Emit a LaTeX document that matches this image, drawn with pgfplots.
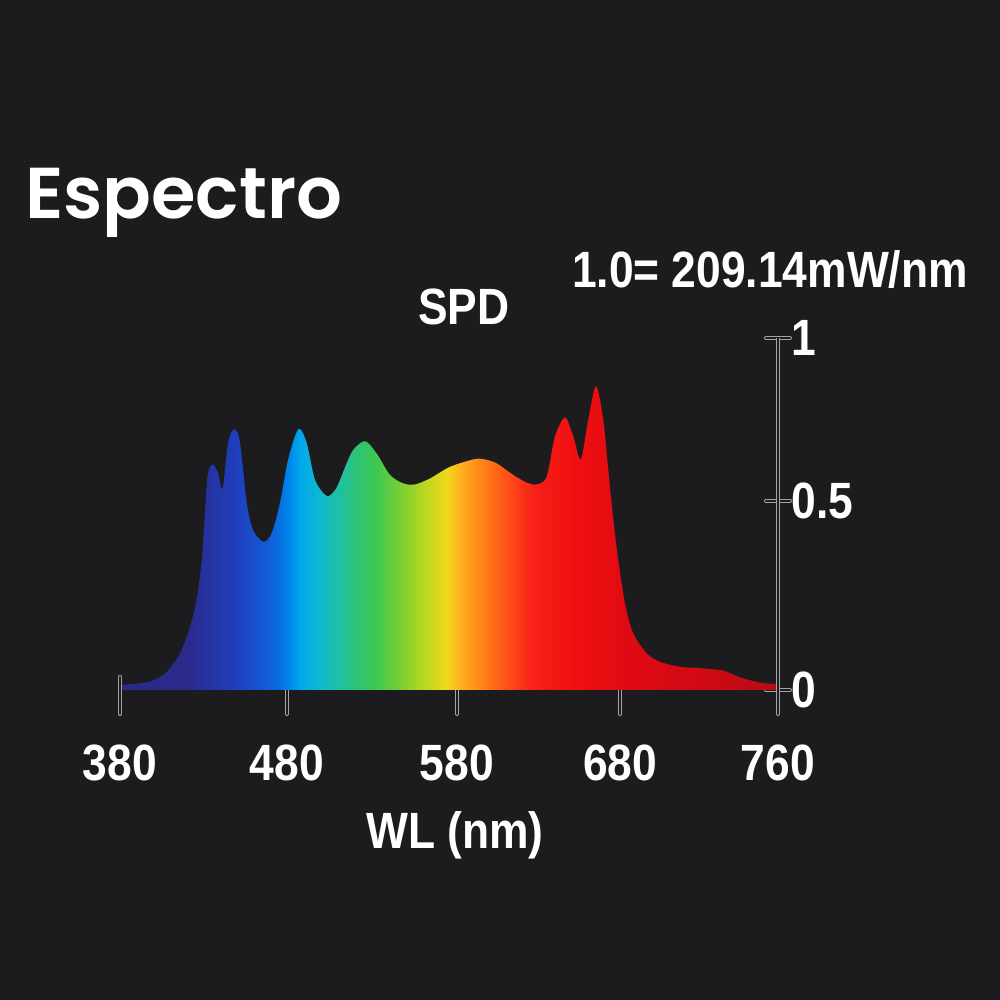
\documentclass[border=0pt]{standalone}
\usepackage{pgfplots}
\pgfplotsset{compat=1.18}
\usepackage{fontspec}
\setmainfont{Liberation Sans}
\newfontfamily\cond[FakeStretch=0.87]{Liberation Sans}
\newfontfamily\titlefont{Poppins SemiBold}

\definecolor{bg}{HTML}{1C1C1E}
\definecolor{axgray}{HTML}{A4A4A4}
% spectrum colours, left to right
\definecolor{s0}{HTML}{2A2A8A}
\definecolor{s1}{HTML}{1F3FBF}
\definecolor{s2}{HTML}{1060D8}
\definecolor{s3}{HTML}{0080E8}
\definecolor{s4}{HTML}{00A8EC}
\definecolor{s5}{HTML}{10B8D0}
\definecolor{s6}{HTML}{20C0A0}
\definecolor{s7}{HTML}{30C470}
\definecolor{s8}{HTML}{40C850}
\definecolor{s9}{HTML}{80D030}
\definecolor{s10}{HTML}{C0D820}
\definecolor{s11}{HTML}{F0D818}
\definecolor{s12}{HTML}{FFB020}
\definecolor{s13}{HTML}{FF8818}
\definecolor{s14}{HTML}{FF5018}
\definecolor{s15}{HTML}{F82018}
\definecolor{s16}{HTML}{F01010}
\definecolor{s17}{HTML}{E00A14}
\definecolor{s18}{HTML}{D00A14}
\definecolor{s19}{HTML}{B80A14}

\pgfdeclarehorizontalshading{spectrum}{100bp}{%
  color(0bp)=(s0); color(25bp)=(s0); color(30.09bp)=(s0);
  color(33.89bp)=(s1); color(36.40bp)=(s2); color(37.69bp)=(s3);
  color(38.68bp)=(s4); color(40.20bp)=(s5); color(41.72bp)=(s6);
  color(43.24bp)=(s7); color(44.53bp)=(s8); color(46.50bp)=(s9);
  color(48.33bp)=(s10); color(49.85bp)=(s11); color(50.84bp)=(s12);
  color(52.36bp)=(s13); color(54.41bp)=(s14); color(56.38bp)=(s15);
  color(59.42bp)=(s16); color(63.53bp)=(s17); color(69.07bp)=(s18);
  color(75bp)=(s19); color(100bp)=(s19)}

\tikzset{hollow/.style={draw=axgray, line width=0.9pt, double=bg,
  double distance=2.2pt, line cap=round}}

\newcommand\lab{\cond\bfseries\fontsize{51}{58}\selectfont}

\begin{document}
\begin{tikzpicture}[x=1pt,y=1pt]
\fill[bg] (0,0) rectangle (1000,1000);

\node[anchor=base west, text=white, inner sep=0,
  font=\titlefont\fontsize{72}{80}\selectfont] at (25,781) {Espectro};
\node[anchor=base, text=white, inner sep=0,
  font=\cond\bfseries\fontsize{51}{58}\selectfont] at (770,712) {1.0= 209.14mW/nm};
\node[anchor=base, text=white, inner sep=0, font=\lab] at (464,675) {SPD};

\begin{axis}[
  at={(120pt,310pt)}, anchor=south west,
  scale only axis, width=658pt, height=352pt,
  xmin=380, xmax=760, ymin=0, ymax=1,
  clip=false,
  axis line style={draw=none},
  xtick pos=bottom, ytick pos=right, yticklabel pos=right,
  tick align=outside, major tick length=24pt,
  xtick={380,476.4,574.6,668.8,760},
  xticklabels={380,480,580,680,760},
  ytick={0,0.537,1},
  yticklabels={0,0.5,1},
  xtick style={hollow},
  ytick style={hollow, xshift=-12pt},
  ticklabel style={font=\lab, text=white},
  xticklabel style={anchor=base, yshift=-67pt},
  yticklabel style={anchor=west, xshift=-14pt},
  xlabel={WL (nm)},
  xlabel style={at={(axis description cs:0.509,0)}, anchor=base,
    yshift=-158pt, font=\lab, text=white},
]
\addplot[draw=none, shading=spectrum, smooth] coordinates {
(380.0,0.014) (397.3,0.024) (407.1,0.052) (414.7,0.105) (420.4,0.179)
(424.5,0.264) (427.4,0.378) (429.1,0.511) (430.8,0.616) (433.7,0.641)
(436.6,0.616) (439.3,0.573) (442.4,0.702) (446.0,0.741) (449.3,0.702)
(453.2,0.531) (456.8,0.455) (462.8,0.421) (467.6,0.446) (472.4,0.531)
(477.0,0.653) (483.0,0.741) (487.8,0.702) (492.6,0.597) (499.4,0.551)
(504.2,0.568) (507.1,0.597) (510.9,0.644) (514.7,0.682) (521.5,0.707)
(528.2,0.672) (535.9,0.611) (543.6,0.587) (550.4,0.584) (559.0,0.601)
(570.6,0.634) (584.0,0.655) (589.8,0.656) (597.5,0.644) (607.1,0.611)
(614.9,0.589) (620.6,0.584) (626.4,0.606) (631.2,0.720) (637.0,0.774)
(641.8,0.720) (646.1,0.655) (650.4,0.767) (654.9,0.863) (659.1,0.767)
(662.0,0.625) (664.9,0.483) (667.8,0.369) (671.6,0.246) (676.4,0.161)
(684.2,0.104) (691.9,0.080) (703.4,0.066) (715.0,0.062) (728.4,0.055)
(738.1,0.036) (749.6,0.021) (760.0,0.017)
} \closedcycle;
% axis line on the right and the long first tick
\draw[hollow, line cap=butt] (axis cs:760,-0.068) -- (axis cs:760,1);
\draw[hollow] (axis cs:380,0.037) -- (axis cs:380,-0.068);
\end{axis}
\pgfresetboundingbox
\useasboundingbox (0,0) rectangle (1000,1000);
\end{tikzpicture}
\end{document}
